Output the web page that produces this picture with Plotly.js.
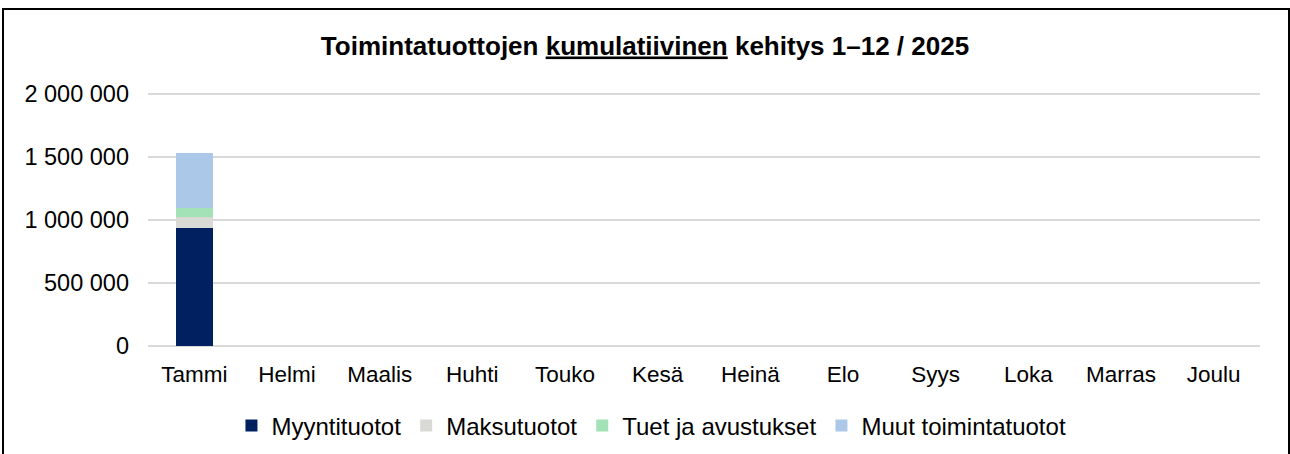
<!DOCTYPE html>
<html>
<head>
<meta charset="utf-8">
<script src="https://cdn.plot.ly/plotly-3.0.1.min.js"></script>
<style>
  html, body { margin: 0; padding: 0; background: #ffffff; }
  #wrap { position: relative; width: 1290px; height: 454px; overflow: hidden; }
  #chart { position: absolute; left: 0; top: 0; width: 1290px; height: 454px; }
  #frame { position: absolute; left: 2px; top: 8px; width: 1284px; height: 460px;
           border: 2px solid #000; pointer-events: none; }
</style>
</head>
<body>
<div id="wrap">
  <div id="chart"></div>
  <div id="frame"></div>
</div>
<script>
const months = ["Tammi", "Helmi", "Maalis", "Huhti", "Touko", "Kesä", "Heinä", "Elo", "Syys", "Loka", "Marras", "Joulu"];
const seriesNames = ["Myyntituotot", "Maksutuotot", "Tuet ja avustukset", "Muut toimintatuotot"];
const myyntituotot = [935000, null, null, null, null, null, null, null, null, null, null, null];
const maksutuotot = [85000, null, null, null, null, null, null, null, null, null, null, null];
const tuetJaAvustukset = [75000, null, null, null, null, null, null, null, null, null, null, null];
const muutToimintatuotot = [440000, null, null, null, null, null, null, null, null, null, null, null];
const yTickVals = [0, 500000, 1000000, 1500000, 2000000];
const yTickText = ["0", "500 000", "1 000 000", "1 500 000", "2 000 000"];
const colors = ["#002060", "#d9d9d6", "#a3e2b6", "#abc8e8"];

const seriesValues = [myyntituotot, maksutuotot, tuetJaAvustukset, muutToimintatuotot];
const traces = seriesValues.map((vals, i) => ({
  type: "bar",
  name: seriesNames[i],
  x: months,
  y: vals,
  marker: { color: colors[i], line: { width: 0 } },
  hoverinfo: "x+y+name"
}));

const font = "Liberation Sans, Arial, Helvetica, sans-serif";
const layout = {
  width: 1290,
  height: 454,
  paper_bgcolor: "rgba(0,0,0,0)",
  plot_bgcolor: "#ffffff",
  barmode: "stack",
  bargap: 0.6,
  margin: { l: 148, r: 30, t: 93, b: 108 },
  font: { family: font, color: "#000000", size: 22 },
  title: {
    text: "<b>Toimintatuottojen <u>kumulatiivinen</u> kehitys 1–12 / 2025</b>",
    font: { family: font, size: 26, color: "#000000" },
    x: 0.5, xref: "container", xanchor: "center",
    y: 0.90, yref: "container", yanchor: "middle"
  },
  xaxis: {
    type: "category",
    categoryarray: months,
    tickfont: { family: font, size: 22.5, color: "#000000" },
    showgrid: false,
    showline: false,
    zeroline: false,
    ticks: "",
    ticklabelstandoff: 12
  },
  yaxis: {
    range: [0, 2008000],
    tickvals: yTickVals,
    ticktext: yTickText,
    tickfont: { family: font, size: 23.5, color: "#000000" },
    showgrid: true,
    gridcolor: "#d9d9d9",
    gridwidth: 1.5,
    zeroline: true,
    zerolinecolor: "#d9d9d9",
    zerolinewidth: 1.5,
    showline: false,
    ticks: "",
    ticklabelstandoff: 18
  },
  showlegend: true,
  legend: {
    orientation: "h",
    x: 0.505, xref: "container", xanchor: "center",
    y: 0.062, yref: "container", yanchor: "middle",
    font: { family: font, size: 24, color: "#000000" },
    traceorder: "normal",
    bgcolor: "rgba(0,0,0,0)"
  }
};

Plotly.newPlot("chart", traces, layout, { displayModeBar: false, staticPlot: false });
</script>
</body>
</html>
